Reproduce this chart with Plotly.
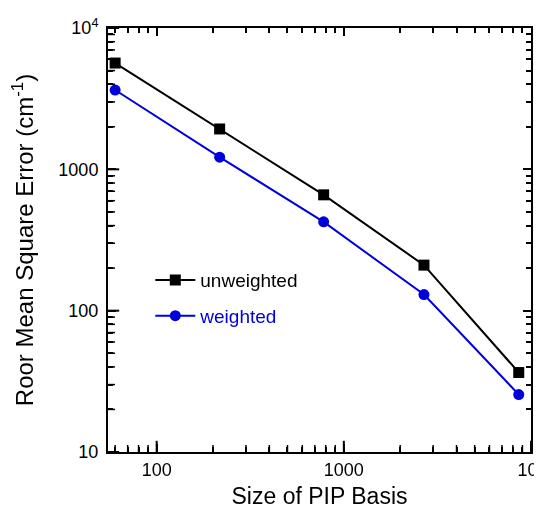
import plotly.graph_objects as go

basis_size = [60, 217, 780, 2680, 8600]
rmse_unweighted = [5650, 1930, 660, 210, 36.5]
rmse_weighted = [3640, 1220, 425, 130, 25.5]

x_tickvals = [100, 1000, 10000]
x_ticktext = ["100", "1000", "10<sup>4</sup>"]
y_tickvals = [10, 100, 1000, 10000]
y_ticktext = ["10", "100", "1000", "10<sup>4</sup>"]
x_minor = [60, 70, 80, 90, 200, 300, 400, 500, 600, 700, 800, 900,
           2000, 3000, 4000, 5000, 6000, 7000, 8000, 9000]
y_minor = [20, 30, 40, 50, 60, 70, 80, 90, 200, 300, 400, 500, 600, 700, 800, 900,
           2000, 3000, 4000, 5000, 6000, 7000, 8000, 9000]

X_RANGE = [1.74, 4.0]
Y_RANGE = [1.0, 4.0]
BLUE = "#0000dd"
FONT = "Liberation Sans"

x_min_val = 10 ** X_RANGE[0]
y_min_val = 10 ** Y_RANGE[0]

fig = go.Figure()
# invisible trace that carries the top/right minor-tick overlay axes
fig.add_trace(go.Scatter(
    x=basis_size, y=rmse_unweighted, mode="markers", opacity=0,
    xaxis="x2", yaxis="y2", showlegend=False, hoverinfo="skip",
))


def tick_marks(xs, ys, symbol, size, width):
    return go.Scatter(
        x=xs, y=ys, mode="markers", showlegend=False, hoverinfo="skip", cliponaxis=True,
        marker=dict(symbol=symbol, size=size, color="black", line=dict(width=width, color="black")),
    )


# bottom / left inward ticks (half of each centred tick is clipped by the frame)
fig.add_trace(tick_marks(x_minor, [y_min_val] * len(x_minor), "line-ns", 10, 1.5))
fig.add_trace(tick_marks(x_tickvals, [y_min_val] * len(x_tickvals), "line-ns", 16, 2))
fig.add_trace(tick_marks([x_min_val] * len(y_minor), y_minor, "line-ew", 10, 1.5))
fig.add_trace(tick_marks([x_min_val] * len(y_tickvals), y_tickvals, "line-ew", 16, 2))

fig.add_trace(go.Scatter(
    x=basis_size, y=rmse_unweighted, mode="lines+markers",
    name="unweighted", legendgroup="a",
    line=dict(color="black", width=2),
    marker=dict(symbol="square", size=11, color="black"),
))
fig.add_trace(go.Scatter(
    x=basis_size, y=rmse_weighted, mode="lines+markers",
    name='<span style="color:%s">weighted</span>' % BLUE, legendgroup="b",
    line=dict(color=BLUE, width=2),
    marker=dict(symbol="circle", size=11, color=BLUE),
))

axis_common = dict(
    type="log", showgrid=False, zeroline=False, automargin=False,
    showline=True, linecolor="black", linewidth=2, mirror="ticks",
    ticks="inside", ticklen=8, tickwidth=2, tickcolor="black",
    tickfont=dict(family=FONT, size=18, color="black"),
    ticklabeloverflow="allow",
)
overlay_common = dict(
    type="log", showgrid=False, zeroline=False, automargin=False,
    showline=False, tickcolor="black", showticklabels=False, tickmode="array",
    ticklen=5, tickwidth=1.5, ticks="inside", mirror="ticks",
)

fig.update_layout(
    xaxis=dict(
        **axis_common, range=X_RANGE,
        tickmode="array", tickvals=x_tickvals, ticktext=x_ticktext,
        title=dict(text="Size of PIP Basis", font=dict(family=FONT, size=23, color="black"), standoff=14),
    ),
    yaxis=dict(
        **axis_common, range=Y_RANGE, ticklabelstandoff=4,
        tickmode="array", tickvals=y_tickvals, ticktext=y_ticktext,
        title=dict(text="Roor Mean Square Error (cm<sup>-1</sup>)", font=dict(family=FONT, size=24, color="black"), standoff=30),
    ),
    xaxis2=dict(**overlay_common, range=X_RANGE, tickvals=x_minor,
                overlaying="x", side="top", anchor="y2"),
    yaxis2=dict(**overlay_common, range=Y_RANGE, tickvals=y_minor,
                overlaying="y", side="right", anchor="x2"),
    width=534, height=501,
    margin=dict(l=100, r=11, t=20, b=57),
    paper_bgcolor="white", plot_bgcolor="white",
    showlegend=True,
    legend=dict(
        x=0.1, y=0.363, xanchor="left", yanchor="middle",
        bgcolor="rgba(0,0,0,0)", borderwidth=0,
        font=dict(family=FONT, size=19, color="black"),
        traceorder="grouped", tracegroupgap=8, itemwidth=40,
    ),
)

fig.write_html("out.html")
